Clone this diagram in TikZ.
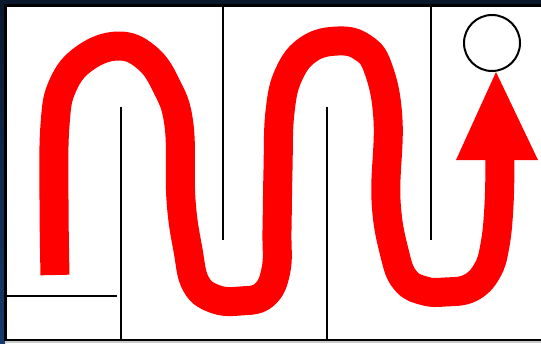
\documentclass[tikz,border=0pt]{standalone}
\usepackage{tikz}
\usetikzlibrary{arrows.meta}

\definecolor{frameblue}{RGB}{10,24,44}
\definecolor{frameblue2}{RGB}{24,58,108}
\definecolor{trailred}{RGB}{255,0,0}

\begin{document}
\begin{tikzpicture}[
  x=1pt, y=-1pt,
  wall/.style={draw=black, line width=2pt},
  outerwall/.style={draw=black, line width=2.6pt},
  trail/.style={draw=trailred, line width=29pt, line cap=butt, line join=round},
  goal/.style={
    circle, draw=black, line width=2pt, fill=white,
    minimum size=56pt, inner sep=0pt
  }
]
  \useasboundingbox (0,0) rectangle (541,343);

  % frame behind the maze
  \fill[frameblue] (0,0) rectangle (541,343);
  \shade[top color=frameblue, bottom color=frameblue2] (0,0) rectangle (5,343);
  \fill[white] (5,5) rectangle (541,341);
  \fill[black!20] (5,341) rectangle (541,343);

  % outer walls
  \draw[outerwall] (541,5.5) -- (5.5,5.5) -- (5.5,340) -- (541,340);

  % inner walls
  \draw[wall] (5,296) -- (117,296);
  \draw[wall] (121,107) -- (121,340);
  \draw[wall] (223,5) -- (223,240);
  \draw[wall] (327,107) -- (327,340);
  \draw[wall] (431,5) -- (431,240);

  % exit
  \node[goal] (goal) at (492,43) {};

  % the way through
  \draw[trail] plot[smooth, tension=0.7] coordinates {
    (55,275) (54,200) (55,125) (63,85) (85,58) (118,46) (146,57)
    (166,85) (179,125) (181,200) (188,250) (196,284) (215,299) (240,301)
    (264,295) (276,270) (277,230) (278,170) (280,112) (289,74)
    (309,49) (338,41) (362,47) (378,68) (388,120) (386,200)
    (395,255) (406,281) (425,291) (445,292) (470,288) (487,271)
    (495,245) (499,205) (500,158)};
  \fill[trailred] (456,160) -- (496,72) -- (538,160) -- cycle;
\end{tikzpicture}
\end{document}
